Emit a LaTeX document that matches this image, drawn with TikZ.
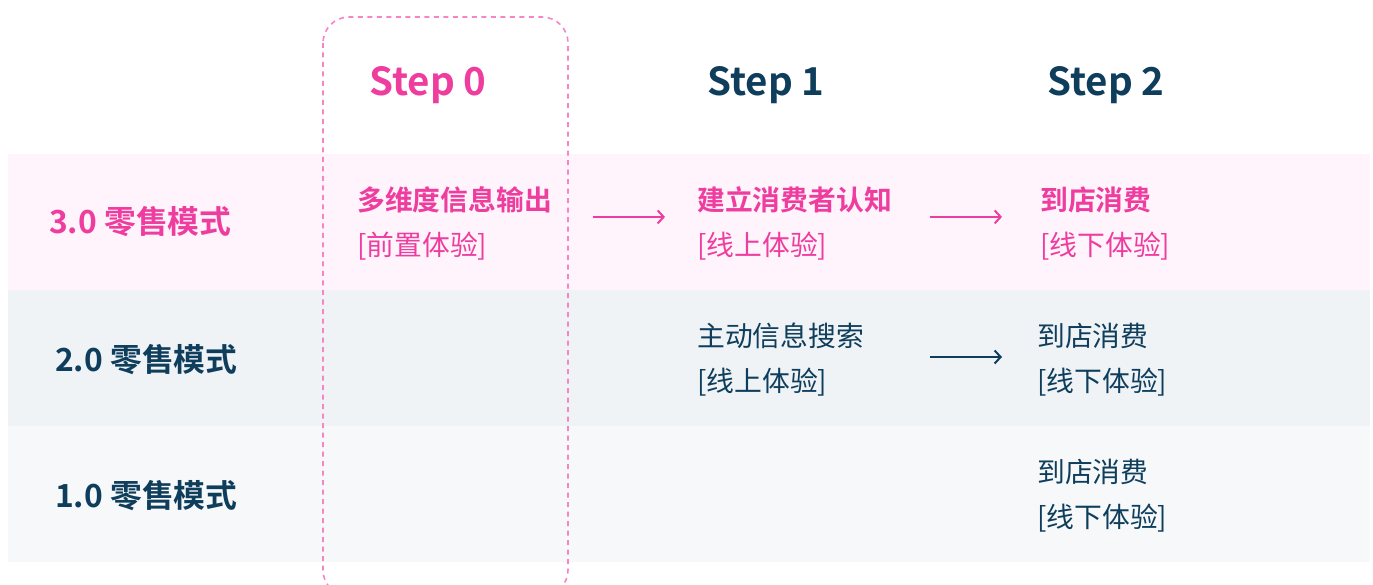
\documentclass[tikz,border=0pt]{standalone}
\usepackage{fontspec}
\setmainfont{Noto Sans CJK SC}[BoldFont={Noto Sans CJK SC Bold}]
\usetikzlibrary{arrows.meta}
\definecolor{pk}{HTML}{EE3D9F}
\definecolor{pkline}{HTML}{F585C6}
\definecolor{nv}{HTML}{0F3E5C}
\definecolor{bgA}{HTML}{FFF4FB}
\definecolor{bgB}{HTML}{EFF3F6}
\definecolor{bgC}{HTML}{F6F8FA}
\tikzset{
  steplabel/.style={font=\fontsize{38.5}{42}\selectfont\bfseries, inner sep=0pt, anchor=base},
  rowlabel/.style={font=\fontsize{31.8}{36}\selectfont\bfseries, inner sep=0pt, anchor=base west},
  block/.style={font=\fontsize{27.8}{45}\selectfont, align=left, inner sep=0pt, anchor=base west},
  flow/.style={line width=2pt, -{Straight Barb[length=6pt,width=13pt,line width=2pt]}},
  dashbox/.style={draw=pkline, line width=1.6pt, dash pattern=on 5pt off 4.5pt, rounded corners=26pt}
}
\begin{document}
\begin{tikzpicture}[x=1pt,y=-1pt]
\useasboundingbox (0,0) rectangle (1373,585);
\begin{scope}
\clip (0,0) rectangle (1373,585);
\fill[bgA] (8,154) rectangle (1370,290);
\fill[bgB] (8,290) rectangle (1370,426);
\fill[bgC] (8,426) rectangle (1370,562);
\draw[dashbox] (323,17) rectangle (568,596);
\end{scope}
% step headers
\node[steplabel, text=pk] (s0) at (428,96) {Step 0};
\node[steplabel, text=nv] (s1) at (766,96) {Step 1};
\node[steplabel, text=nv] (s2) at (1106,96) {Step 2};
% row labels
\node[rowlabel, text=pk] (r3) at (49,234) {3.0 零售模式};
\node[rowlabel, text=nv] (r2) at (55,371) {2.0 零售模式};
\node[rowlabel, text=nv] (r1) at (55,507) {1.0 零售模式};
% row 3.0
\node[block, text=pk] (a0) at (357,256) {\textbf{多维度信息输出}\\{[}前置体验{]}};
\node[block, text=pk] (a1) at (697,256) {\textbf{建立消费者认知}\\{[}线上体验{]}};
\node[block, text=pk] (a2) at (1040,256) {\textbf{到店消费}\\{[}线下体验{]}};
\draw[flow, pk, shorten <=41pt, shorten >=32pt] ([yshift=7pt]a0.east) -- ([yshift=7pt]a0.east -| a1.west);
\draw[flow, pk, shorten <=38pt, shorten >=38pt] ([yshift=7pt]a1.east) -- ([yshift=7pt]a1.east -| a2.west);
% row 2.0
\node[block, text=nv] (b1) at (697,391) {主动信息搜索\\{[}线上体验{]}};
\node[block, text=nv] (b2) at (1037,391) {到店消费\\{[}线下体验{]}};
\coordinate (bstart) at (930,357);
\draw[flow, nv, shorten >=35pt] (bstart) -- (bstart -| b2.west);
% row 1.0
\node[block, text=nv] (c2) at (1037,527) {到店消费\\{[}线下体验{]}};
\end{tikzpicture}
\end{document}
